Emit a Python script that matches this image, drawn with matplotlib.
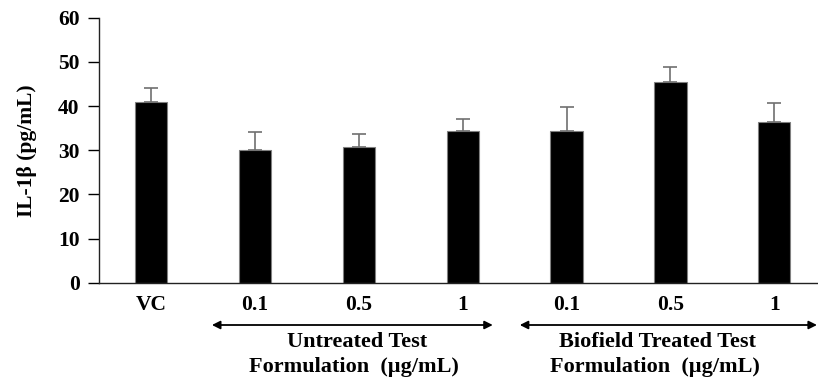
import matplotlib
matplotlib.use("Agg")
import matplotlib.pyplot as plt
import matplotlib.transforms as mtransforms

categories = ["VC", "0.1", "0.5", "1", "0.1", "0.5", "1"]
values = [41.0, 30.0, 30.8, 34.3, 34.3, 45.5, 36.5]
errors = [3.1, 4.1, 2.8, 2.8, 5.4, 3.3, 4.2]
yticks = [0, 10, 20, 30, 40, 50, 60]
group1 = ["Untreated Test", "Formulation  (\u00b5g/mL)"]
group2 = ["Biofield Treated Test", "Formulation  (\u00b5g/mL)"]

plt.rcParams['font.family'] = ['Liberation Serif', 'DejaVu Serif']
plt.rcParams['font.weight'] = 'bold'

fig = plt.figure(figsize=(8.18, 3.79), dpi=100)
ax = fig.add_axes([0.121, 0.254, 0.879, 0.699])

x = list(range(len(categories)))
ax.bar(x, values, width=0.31, color='black', edgecolor='#808080', linewidth=0.8,
       yerr=[[0]*len(errors), errors],
       error_kw=dict(ecolor='#707070', elinewidth=1.2, capsize=5, capthick=1.2))

ax.set_xlim(-0.5, 6.42)
ax.set_ylim(0, 60)
ax.set_yticks(yticks)
ax.set_yticklabels([str(t) for t in yticks], fontsize=15.5, fontweight='bold')
ax.set_xticks(x)
ax.set_xticklabels(categories, fontsize=15.5, fontweight='bold')
ax.tick_params(axis='x', length=0, pad=9)
ax.tick_params(axis='y', length=8, width=1, direction='out', pad=6)
ax.spines['top'].set_visible(False)
ax.spines['right'].set_visible(False)
for s in ('left', 'bottom'):
    ax.spines[s].set_linewidth(1.0)
    ax.spines[s].set_color('#222222')

ax.set_ylabel("IL-1\u03b2 (pg/mL)", fontsize=15.5, fontweight='bold', labelpad=15)

trans = mtransforms.blended_transform_factory(ax.transData, fig.transFigure)
y_arrow = 1 - 325 / 379
for (x0, x1) in [(0.587, 3.29), (3.55, 6.41)]:
    ax.annotate("", xy=(x0, y_arrow), xytext=(x1, y_arrow), xycoords=trans, textcoords=trans,
                arrowprops=dict(arrowstyle='<|-|>', color='black', lw=1.3,
                                mutation_scale=12, shrinkA=0, shrinkB=0),
                annotation_clip=False)

for cx, lines in [(1.98, group1), (4.88, group2)]:
    ax.text(cx, 1 - 342 / 379, lines[0], transform=trans, ha='center', va='center',
            fontsize=16, fontweight='bold')
    ax.text(cx - 0.03, 1 - 367 / 379, lines[1], transform=trans, ha='center', va='center',
            fontsize=16, fontweight='bold')

fig.savefig("out.png", dpi=100)
